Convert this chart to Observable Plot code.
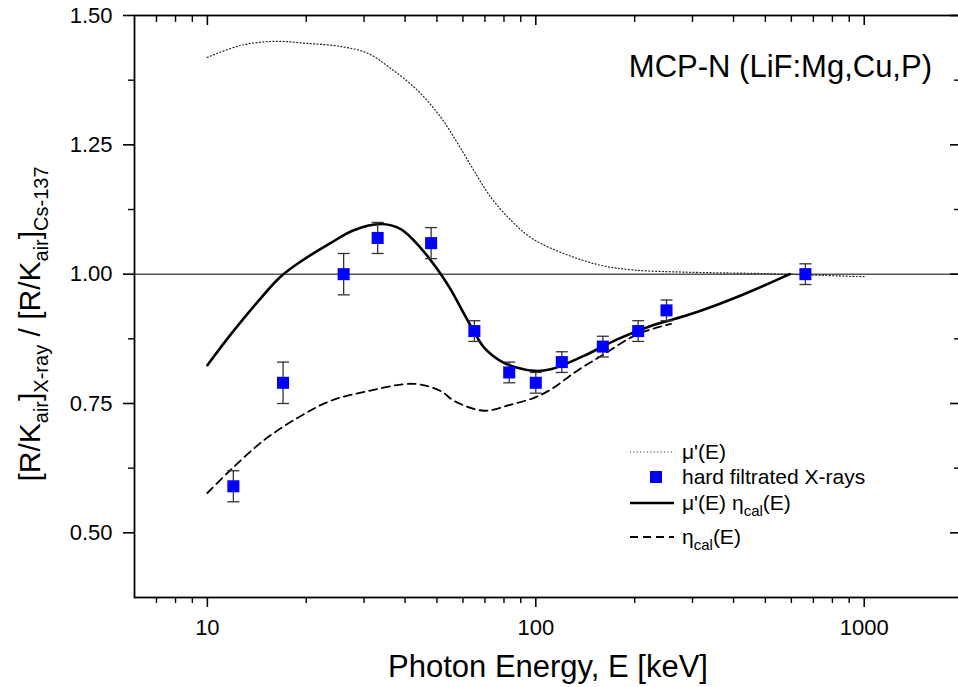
<!DOCTYPE html>
<html><head><meta charset="utf-8">
<script src="https://cdn.jsdelivr.net/npm/d3@7"></script>
<script src="https://cdn.jsdelivr.net/npm/@observablehq/plot@0.6"></script>
<style>body{margin:0;background:#fff}</style>
</head><body><div id="chart"></div>
<script>
// Measured points: hard filtrated X-rays
const ptE   = [12, 17, 26, 33, 48, 65, 83, 100, 120, 160, 205, 250, 662];
const ptV   = [0.59, 0.79, 1.00, 1.07, 1.06, 0.89, 0.81, 0.79, 0.83, 0.86, 0.89, 0.93, 1.00];
const ptErr = [0.03, 0.04, 0.04, 0.03, 0.03, 0.02, 0.02, 0.02, 0.02, 0.02, 0.02, 0.02, 0.02];

// mu'(E) (dotted)
const muE = [10, 12.6, 15.9, 20.2, 25.5, 30.8, 36.1, 43.7, 51.4, 57.8, 64.7, 72.9, 84, 98, 125, 158, 199, 282, 500, 1000];
const muV = [1.419, 1.442, 1.450, 1.446, 1.440, 1.427, 1.398, 1.355, 1.303, 1.253, 1.201, 1.149, 1.104, 1.068, 1.037, 1.017, 1.008, 1.004, 1.001, 0.995];

// mu'(E) eta_cal(E) (solid)
const prodE = [10, 11.8, 14.2, 16.7, 19.2, 23.7, 27.9, 33.7, 38.8, 44.7, 51.4, 55.1, 59.2, 64.8, 69.6, 78.2, 87.9, 98.8, 111, 140, 177, 224, 284, 357, 452, 593];
const prodV = [0.824, 0.884, 0.946, 0.995, 1.024, 1.060, 1.085, 1.097, 1.087, 1.050, 1.000, 0.970, 0.934, 0.889, 0.858, 0.832, 0.819, 0.813, 0.816, 0.842, 0.874, 0.900, 0.919, 0.941, 0.967, 1.000];

// eta_cal(E) (dashed)
const etaE = [10, 11.7, 14.8, 18.8, 23.7, 30.8, 42.5, 51.4, 56.4, 69.6, 84, 98.8, 111, 133.5, 161, 204, 258];
const etaV = [0.577, 0.620, 0.678, 0.722, 0.755, 0.774, 0.788, 0.774, 0.755, 0.736, 0.748, 0.761, 0.777, 0.813, 0.845, 0.884, 0.904];

// Ticks
const xMajor = [10, 100, 1000];
const xMinor = [7, 8, 9, 20, 30, 40, 50, 60, 70, 80, 90, 200, 300, 400, 500, 600, 700, 800, 900];
const yMajor = [0.50, 0.75, 1.00, 1.25, 1.50];
const yMinor = [0.625, 0.875, 1.125, 1.375];

const pts = ptE.map((E, i) => ({E, v: ptV[i], err: ptErr[i]}));
const mu = muE.map((E, i) => ({E, v: muV[i]}));
const prod = prodE.map((E, i) => ({E, v: prodV[i]}));
const eta = etaE.map((E, i) => ({E, v: etaV[i]}));

const W = 958, H = 687, ML = 134, MR = -1, MT = 15, MB = 90;
const frameW = W - ML - MR, frameH = H - MT - MB;
const font = "'Liberation Sans', Arial, sans-serif";

const capSymbol = {draw(ctx) { ctx.moveTo(-6, 0); ctx.lineTo(6, 0); }};

const chart = Plot.plot({
  width: W, height: H,
  marginLeft: ML, marginRight: MR, marginTop: MT, marginBottom: MB,
  style: {fontFamily: font, background: "white", color: "black"},
  x: {type: "log", domain: [6, 1950], label: null},
  y: {domain: [0.375, 1.5], label: null},
  marks: [
    Plot.ruleY([1], {stroke: "black", strokeWidth: 1}),
    Plot.line(mu, {x: "E", y: "v", stroke: "#222", strokeWidth: 1.2, strokeDasharray: "1,2.4", curve: "catmull-rom"}),
    Plot.line(eta, {x: "E", y: "v", stroke: "black", strokeWidth: 1.8, strokeDasharray: "8,5", curve: "catmull-rom"}),
    Plot.line(prod, {x: "E", y: "v", stroke: "black", strokeWidth: 2.6, curve: "catmull-rom"}),
    Plot.ruleX(pts, {x: "E", y1: d => d.v - d.err, y2: d => d.v + d.err, stroke: "#333", strokeWidth: 1.3}),
    Plot.dot(pts, {x: "E", y: d => d.v - d.err, symbol: capSymbol, fill: "none", stroke: "#333", strokeWidth: 1.3}),
    Plot.dot(pts, {x: "E", y: d => d.v + d.err, symbol: capSymbol, fill: "none", stroke: "#333", strokeWidth: 1.3}),
    Plot.dot(pts, {x: "E", y: "v", symbol: "square", r: 6.8, fill: "#0000ff", stroke: "none"}),
    // bottom axis
    Plot.axisX({ticks: xMajor, anchor: "bottom", tickSize: 10, tickPadding: 12, tickFormat: d => String(d), fontSize: 22, label: null, strokeWidth: 1.6}),
    Plot.axisX({ticks: xMinor, anchor: "bottom", tickSize: 6, tickFormat: () => "", label: null, strokeWidth: 1.4}),
    // left axis
    Plot.axisY({ticks: yMajor, anchor: "left", tickSize: 11, tickPadding: 11, tickFormat: d3.format(".2f"), fontSize: 22, label: null, strokeWidth: 1.6}),
    Plot.axisY({ticks: yMinor, anchor: "left", tickSize: 6, tickFormat: () => "", label: null, strokeWidth: 1.4}),
    // mirrored inward ticks (top, right)
    Plot.tickX(xMajor, {x: d => d, insetBottom: frameH - 10, stroke: "black", strokeWidth: 1.6}),
    Plot.tickX(xMinor, {x: d => d, insetBottom: frameH - 7, stroke: "black", strokeWidth: 1.4}),
    Plot.tickY(yMajor, {y: d => d, insetLeft: frameW - 9, stroke: "black", strokeWidth: 1.6}),
    Plot.tickY(yMinor, {y: d => d, insetLeft: frameW - 5, stroke: "black", strokeWidth: 1.4}),
    Plot.frame({stroke: "black", strokeWidth: 1.8})
  ]
});

document.getElementById("chart").appendChild(chart);
const svg = d3.select(chart);

// Title annotation
svg.append("text").attr("x", 932).attr("y", 77).attr("text-anchor", "end")
  .attr("font-family", font).attr("font-size", 31).attr("fill", "black")
  .text("MCP-N (LiF:Mg,Cu,P)");

// X label
svg.append("text").attr("x", 548).attr("y", 677).attr("text-anchor", "middle")
  .attr("font-family", font).attr("font-size", 31).attr("fill", "black")
  .text("Photon Energy, E [keV]");

// Y label with subscripts
const yl = svg.append("text").attr("transform", "translate(40,324) rotate(-90)")
  .attr("text-anchor", "middle").attr("font-family", font).attr("font-size", 30).attr("fill", "black");
function addParts(t, parts, sub) {
  let shifted = false;
  parts.forEach(([s, isSub]) => {
    const ts = t.append("tspan").text(s);
    if (isSub && !shifted) { ts.attr("dy", sub.dy).attr("font-size", sub.size); shifted = true; }
    else if (isSub) { ts.attr("font-size", sub.size); }
    else if (!isSub && shifted) { ts.attr("dy", -sub.dy); shifted = false; }
  });
}
addParts(yl, [["[R/K", false], ["air", true], ["]", false], ["X-ray", true], [" / [R/K", false], ["air", true], ["]", false], ["Cs-137", true]], {dy: 8, size: 20});

// Legend
const lg = svg.append("g").attr("font-family", font).attr("font-size", 21).attr("fill", "black").attr("text-anchor", "start");
const lx0 = 630, lx1 = 674, tx = 682;
const items = [
  {y: 452, kind: "dotted", parts: [["μ'(E)", false]]},
  {y: 477, kind: "square", parts: [["hard filtrated X-rays", false]]},
  {y: 503, kind: "solid", parts: [["μ'(E) η", false], ["cal", true], ["(E)", false]]},
  {y: 537, kind: "dashed", parts: [["η", false], ["cal", true], ["(E)", false]]}
];
items.forEach(it => {
  if (it.kind === "square") {
    lg.append("rect").attr("x", 650).attr("y", it.y - 6).attr("width", 12).attr("height", 12).attr("fill", "#0000ff");
  } else {
    const ln = lg.append("line").attr("x1", lx0).attr("x2", lx1).attr("y1", it.y).attr("y2", it.y).attr("stroke", it.kind === "dotted" ? "#222" : "black");
    if (it.kind === "dotted") ln.attr("stroke-width", 1.2).attr("stroke-dasharray", "1,2.4");
    if (it.kind === "solid") ln.attr("stroke-width", 2.6);
    if (it.kind === "dashed") ln.attr("stroke-width", 1.8).attr("stroke-dasharray", "8,5");
  }
  const t = lg.append("text").attr("x", tx).attr("y", it.y).attr("dy", "0.35em").attr("text-anchor", "start");
  addParts(t, it.parts, {dy: 6, size: 15});
});
</script>
</body></html>
